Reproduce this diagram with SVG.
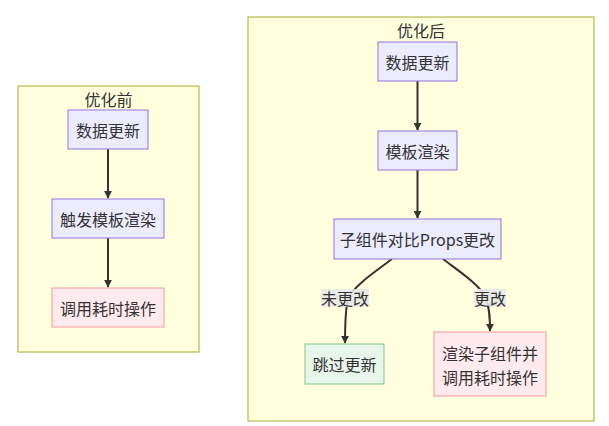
<svg xmlns="http://www.w3.org/2000/svg" width="609" height="426" viewBox="0 0 609 426">
<defs>
<marker id="arr" viewBox="0 0 10 10" refX="9" refY="5" markerWidth="8" markerHeight="8" markerUnits="userSpaceOnUse" orient="auto">
<path d="M0,0 L10,5 L0,10 z" fill="#333"/>
</marker>
<style>
text{font-family:"Noto Sans CJK SC","Liberation Sans",sans-serif;font-size:16px;fill:#333;text-anchor:middle;dominant-baseline:central}
.cluster{fill:#ffffde;stroke:#aaaa33;stroke-width:1}
.node{fill:#ececff;stroke:#9370db;stroke-width:1}
.green{fill:#e8f5e9;stroke:#81c784;stroke-width:1}
.red{fill:#ffebee;stroke:#ef9a9a;stroke-width:1}
.edge{fill:none;stroke:#333;stroke-width:2;marker-end:url(#arr)}
.lbl{fill:#e8e8e8;opacity:0.9}
</style>
</defs>
<rect width="609" height="426" fill="#ffffff"/>
<g id="cluster-before">
<rect class="cluster" x="18" y="86" width="181" height="266"/>
<text x="108.5" y="99">优化前</text>
</g>
<g id="cluster-after">
<rect class="cluster" x="248" y="17" width="346" height="404"/>
<text x="421" y="30">优化后</text>
</g>
<g id="connectors">
<path class="edge" d="M108,149 L108,198"/>
<path class="edge" d="M108,238 L108,287"/>
<path class="edge" d="M417.5,81 L417.5,130"/>
<path class="edge" d="M417.5,170 L417.5,218"/>
<path class="edge" d="M392,259 C375,272 355,285 348,298 C345,312 345,325 345,343"/>
<path class="edge" d="M443,259 C460,272 480,285 486,298 C490,310 490,320 490,331"/>
</g>
<g id="label-unchanged">
<rect class="lbl" x="321" y="289" width="48" height="18"/>
<text x="345" y="298">未更改</text>
</g>
<g id="label-changed">
<rect class="lbl" x="474" y="289" width="32" height="18"/>
<text x="490" y="298">更改</text>
</g>
<g id="b-update">
<rect class="node" x="68" y="110" width="80" height="39"/>
<text x="108" y="129.5">数据更新</text>
</g>
<g id="b-render">
<rect class="node" x="52" y="199" width="112" height="39"/>
<text x="108" y="218.5">触发模板渲染</text>
</g>
<g id="b-cost">
<rect class="red" x="52" y="288" width="112" height="39"/>
<text x="108" y="307.5">调用耗时操作</text>
</g>
<g id="a-update">
<rect class="node" x="378" y="42" width="79" height="39"/>
<text x="417.5" y="61.5">数据更新</text>
</g>
<g id="a-render">
<rect class="node" x="378" y="131" width="79" height="39"/>
<text x="417.5" y="150.5">模板渲染</text>
</g>
<g id="a-compare">
<rect class="node" x="334" y="219" width="167" height="40"/>
<text x="417.5" y="239">子组件对比Props更改</text>
</g>
<g id="a-skip">
<rect class="green" x="305" y="344" width="79" height="40"/>
<text x="344.5" y="364">跳过更新</text>
</g>
<g id="a-cost">
<rect class="red" x="434" y="332" width="112" height="64"/>
<text x="490" y="353">渲染子组件并</text>
<text x="490" y="377">调用耗时操作</text>
</g>
</svg>
